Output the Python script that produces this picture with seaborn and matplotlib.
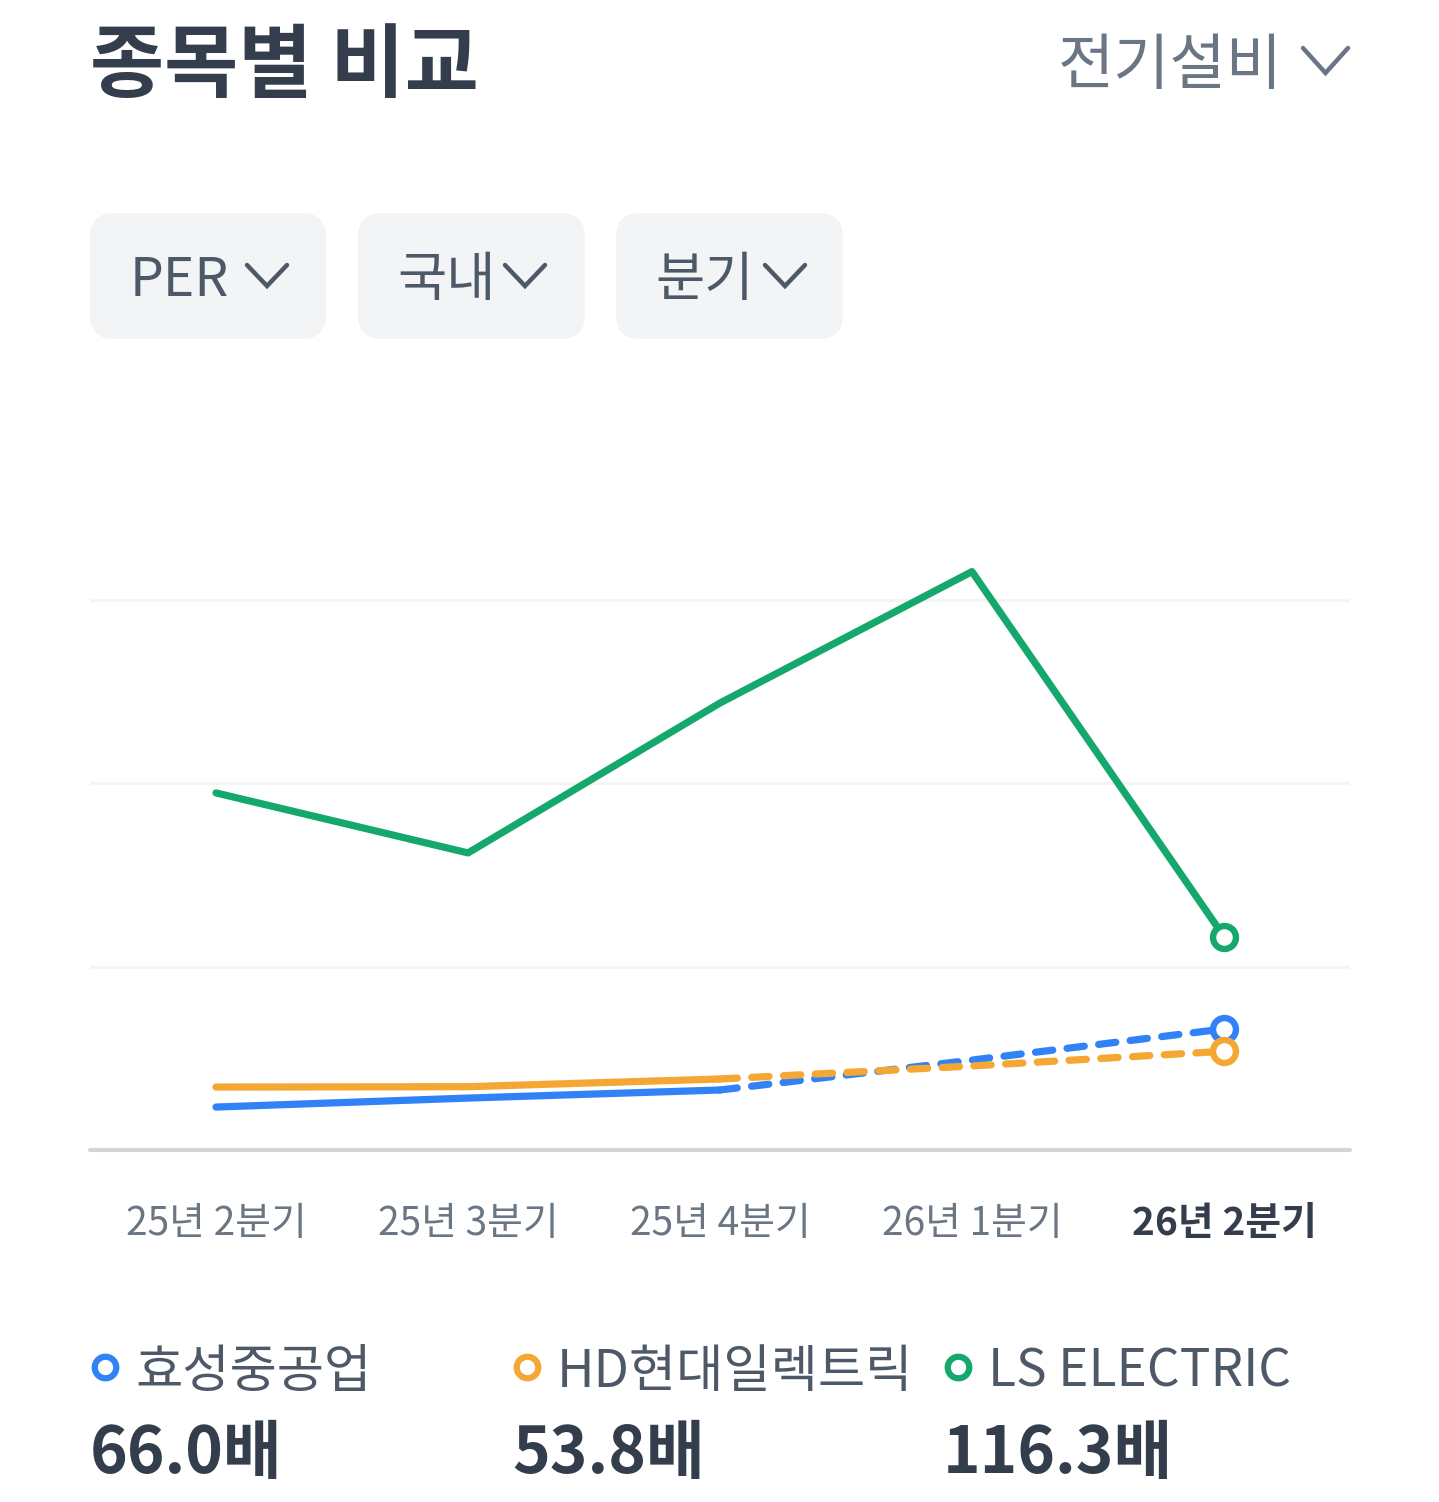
import matplotlib
matplotlib.use("Agg")
import matplotlib.pyplot as plt
from matplotlib.patches import FancyBboxPatch
import numpy as np
import pandas as pd
import seaborn as sns

# data (PER, 배)
quarters = ['25년 2분기', '25년 3분기', '25년 4분기', '26년 1분기', '26년 2분기']
stocks = ['효성중공업', 'HD현대일렉트릭', 'LS ELECTRIC']
hyosung = [23.4, 28.3, 32.7, 49.0, 66.0]
hd_electric = [34.3, 34.5, 38.7, 45.8, 53.8]
ls_electric = [194.6, 161.9, 243.6, 315.2, 116.3]
latest_labels = ['66.0배', '53.8배', '116.3배']
solid_until = [2, 2, 4]   # last index drawn solid; after that dashed (estimate)
filters = ['PER', '국내', '분기']

colors = ['#3182F6', '#F5A733', '#14A86C']
DARK = '#333D4B'
GRAY = '#6B7684'
MID = '#4E5968'

sns.set_theme(style='white')
plt.rcParams['font.family'] = ['Noto Sans CJK KR', 'DejaVu Sans']

W, H = 1439, 1502
fig = plt.figure(figsize=(W / 100, H / 100), dpi=100)

# overlay axes in pixel coords for the UI parts
ui = fig.add_axes([0, 0, 1, 1])
ui.set_xlim(0, W)
ui.set_ylim(H, 0)
ui.axis('off')

# chart axes
ax = fig.add_axes([90 / W, 1 - 1150 / H, 1260 / W, (1150 - 416) / H])
ax.set_facecolor('none')

series = [hyosung, hd_electric, ls_electric]
rows = []
for name, vals in zip(stocks, series):
    for i, (q, v) in enumerate(zip(quarters, vals)):
        rows.append({'stock': name, 'pos': i, 'quarter': q, 'per': v})
df = pd.DataFrame(rows)

for name, col, cut in zip(stocks, colors, solid_until):
    sub = df[df['stock'] == name]
    solid = sub[sub['pos'] <= cut]
    sns.lineplot(data=solid, x='pos', y='per', color=col, linewidth=5.2,
                 ax=ax, legend=False, zorder=3)
    ax.lines[-1].set_solid_capstyle('round')
    ax.lines[-1].set_solid_joinstyle('round')
    if cut < len(quarters) - 1:
        dashed = sub[sub['pos'] >= cut]
        sns.lineplot(data=dashed, x='pos', y='per', color=col, linewidth=5.2,
                     ax=ax, legend=False, zorder=3)
        ln = ax.lines[-1]
        ln.set_linestyle((0, (2.4, 2.0)))
        ln.set_dash_capstyle('round')
    last = sub[sub['pos'] == sub['pos'].max()]
    sns.scatterplot(data=last, x='pos', y='per', s=16.5 ** 2, color='white',
                    edgecolor=col, linewidth=4.6, ax=ax, legend=False, zorder=5)

ax.set_xlim(-0.5, len(quarters) - 0.5)
ax.set_ylim(0, 400)
ax.set_yticks([100, 200, 300])
ax.set_yticklabels([])
ax.yaxis.grid(True, color='#F2F4F6', linewidth=2.4)
ax.xaxis.grid(False)
ax.axhline(0, color='#D1D6DB', linewidth=3, zorder=2, clip_on=False)
for s in ax.spines.values():
    s.set_visible(False)
ax.set_xticks(range(len(quarters)))
ax.set_xticklabels(quarters, fontsize=28, color=GRAY)
ax.tick_params(axis='x', length=0, pad=39)
ax.tick_params(axis='y', length=0)
ax.get_xticklabels()[-1].set_fontweight('bold')
ax.get_xticklabels()[-1].set_color(DARK)
ax.set_xlabel('')
ax.set_ylabel('')


def chevron(x, y, w, h, lw, color):
    ui.plot([x, x + w / 2, x + w], [y, y + h, y], color=color, linewidth=lw,
            solid_capstyle='round', solid_joinstyle='miter')


# header
ui.text(90, 68, '종목별 비교', fontsize=58, fontweight='bold', color=DARK,
        ha='left', va='center')
ui.text(1283, 67, '전기설비', fontsize=44, color=GRAY, ha='right', va='center')
chevron(1303, 48, 45, 25, 3.2, GRAY)

# filter buttons
buttons = [(90, 236, 130, 247), (358, 227, 397, 505), (616, 227, 655, 765)]
for label, (bx, bw, tx, cx) in zip(filters, buttons):
    ui.add_patch(FancyBboxPatch((bx, 213), bw, 126,
                                boxstyle='round,pad=0,rounding_size=24',
                                facecolor='#F2F4F6', edgecolor='none'))
    ui.text(tx, 281, label, fontsize=38.5, color=MID, ha='left', va='center')
    chevron(cx, 265, 40, 21, 3.2, MID)

# legend
legend_x = [90, 512, 943]
for name, col, val, lx in zip(stocks, colors, latest_labels, legend_x):
    ui.plot([lx + 15], [1367], marker='o', markersize=15.5, markerfacecolor='white',
            markeredgecolor=col, markeredgewidth=4.5, linestyle='none')
    ui.text(lx + 45, 1372, name, fontsize=37, color=MID, ha='left', va='center')
    ui.text(lx, 1454, val, fontsize=46, fontweight='bold', color=DARK,
            ha='left', va='center')

fig.savefig('out.png', dpi=100, facecolor='white')
